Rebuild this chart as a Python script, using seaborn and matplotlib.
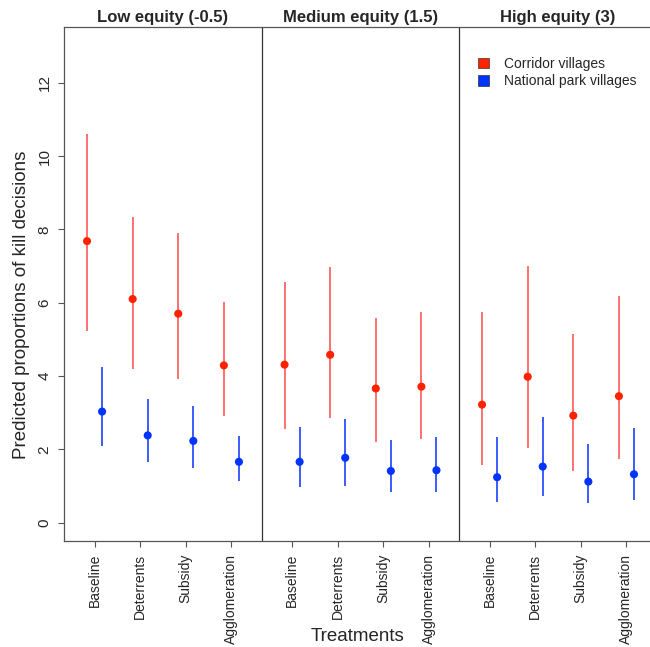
import numpy as np
import pandas as pd
import matplotlib
matplotlib.use("Agg")
import matplotlib.pyplot as plt
import matplotlib.transforms as mtrans
from matplotlib.patches import Patch
import seaborn as sns

# ---- data ----
equity_levels = ["Low equity (-0.5)", "Medium equity (1.5)", "High equity (3)"]
treatments = ["Baseline", "Deterrents", "Subsidy", "Agglomeration"]

corridor_mean = [7.68, 6.10, 5.70, 4.29, 4.31, 4.58, 3.66, 3.71, 3.22, 3.98, 2.92, 3.45]
corridor_lo = [5.24, 4.20, 3.93, 2.92, 2.55, 2.85, 2.20, 2.28, 1.57, 2.03, 1.42, 1.74]
corridor_hi = [10.61, 8.33, 7.90, 6.01, 6.56, 6.98, 5.59, 5.74, 5.74, 7.00, 5.15, 6.17]

park_mean = [3.03, 2.38, 2.23, 1.66, 1.66, 1.77, 1.41, 1.43, 1.24, 1.53, 1.12, 1.32]
park_lo = [2.09, 1.66, 1.50, 1.15, 0.96, 1.01, 0.83, 0.83, 0.57, 0.73, 0.55, 0.63]
park_hi = [4.24, 3.37, 3.18, 2.37, 2.62, 2.82, 2.26, 2.33, 2.34, 2.88, 2.15, 2.58]

village_types = ["Corridor villages", "National park villages"]
point_colors = {"Corridor villages": "#ff2200", "National park villages": "#0033ff"}
line_colors = {"Corridor villages": "#ff7070", "National park villages": "#3a5cff"}

# ---- build long table ----
GAP = 4.33
rows = []
for g, eq in enumerate(equity_levels):
    for t, tr in enumerate(treatments):
        i = g * 4 + t
        base = g * GAP + t
        rows.append(dict(equity=eq, treatment=tr, village=village_types[0], pos=base - 0.165,
                         mean=corridor_mean[i], lo=corridor_lo[i], hi=corridor_hi[i]))
        rows.append(dict(equity=eq, treatment=tr, village=village_types[1], pos=base + 0.165,
                         mean=park_mean[i], lo=park_lo[i], hi=park_hi[i]))
df = pd.DataFrame(rows)

sns.set_style("white")
plt.rcParams["font.family"] = ["Liberation Sans", "DejaVu Sans"]

W, H = 650, 647
fig = plt.figure(figsize=(W / 100, H / 100), dpi=100)
left_px, right_px, top_px, bottom_px = 64, 657, 27, 541
ax = fig.add_axes([left_px / W, 1 - bottom_px / H, (right_px - left_px) / W, (bottom_px - top_px) / H])

for v in village_types:
    sub = df[df.village == v]
    ax.vlines(sub["pos"], sub["lo"], sub["hi"], color=line_colors[v], lw=1.4, zorder=2)

sns.scatterplot(data=df, x="pos", y="mean", hue="village", palette=point_colors,
                s=34, edgecolor="none", linewidth=0, legend=False, ax=ax, zorder=3)

XMIN, XMAX = -0.67, 11.66 + 0.67
YMIN, YMAX = -0.5, 13.52
ax.set_xlim(XMIN, XMAX)
ax.set_ylim(YMIN, YMAX)

# ticks
tick_pos = [g * GAP + t for g in range(3) for t in range(4)]
ax.set_xticks(tick_pos)
ax.set_xticklabels(treatments * 3, rotation=90, fontsize=10)
ax.set_yticks(np.arange(0, 13, 2))
ax.set_yticklabels([str(v) for v in range(0, 13, 2)], rotation=90, va="center", fontsize=11)
ax.tick_params(axis="both", which="both", direction="out", length=4, width=0.8,
               color="#555555", bottom=True, left=True, pad=5)

for s in ["left", "bottom", "top"]:
    ax.spines[s].set_visible(True)
    ax.spines[s].set_color("#555555")
    ax.spines[s].set_linewidth(0.9)
ax.spines["right"].set_visible(False)

# panel dividers
dividers = [g * GAP - (GAP - 3) / 2 for g in range(1, 3)]
for d in dividers:
    ax.axvline(d, color="#333333", lw=0.9)

# panel titles
edges = [XMIN] + dividers + [XMAX]
title_tr = ax.transData + mtrans.ScaledTranslation(0, 1.5 / 72, fig.dpi_scale_trans)
for g, eq in enumerate(equity_levels):
    ax.text((edges[g] + edges[g + 1]) / 2, YMAX, eq, ha="center", va="bottom",
            fontsize=12, fontweight="bold", transform=title_tr, clip_on=False)

ax.set_xlabel("Treatments", fontsize=13.5)
ax.xaxis.set_label_coords(0.495, -0.17)
ax.set_ylabel("Predicted proportions of kill decisions", fontsize=13.5)
ax.yaxis.set_label_coords(-0.058, 0.46)

handles = [Patch(facecolor=point_colors[v], edgecolor="#333333", linewidth=0.5, label=v)
           for v in village_types]
fig.legend(handles=handles, loc="upper left", bbox_to_anchor=(478 / W, 1 - 57 / H),
           frameon=False, fontsize=10, handlelength=0.8, handleheight=0.8,
           handletextpad=1.1, labelspacing=0.22, borderaxespad=0, borderpad=0)

fig.savefig("out.png", dpi=100)
